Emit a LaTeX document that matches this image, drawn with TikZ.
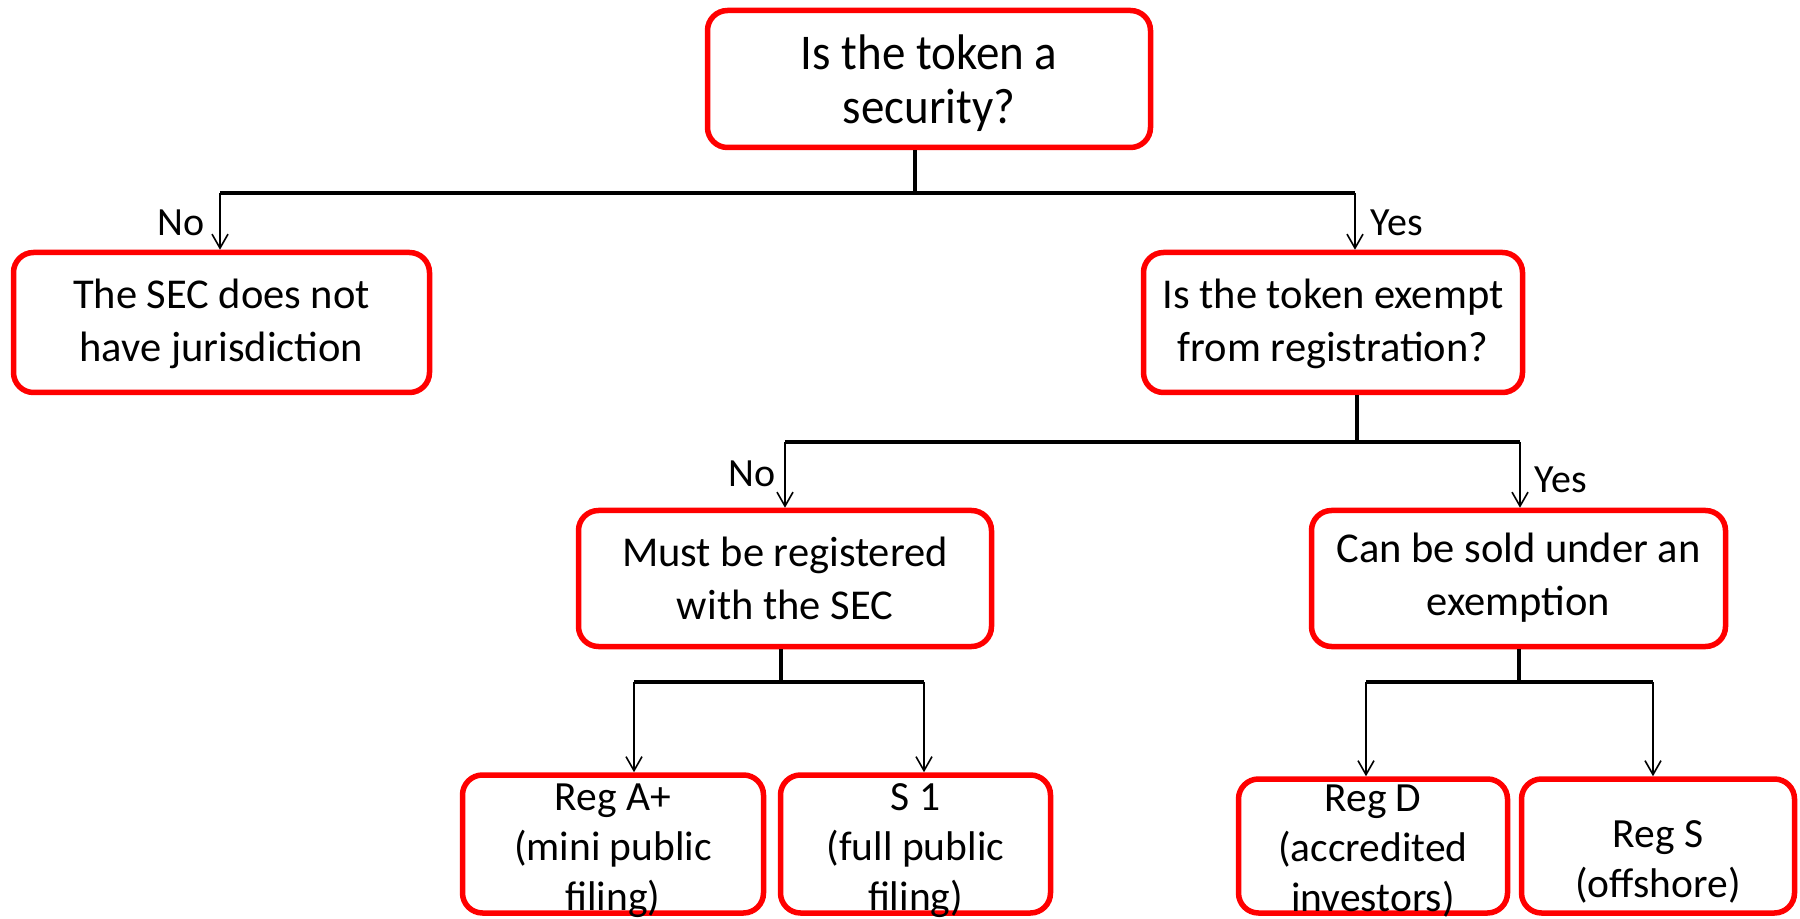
\documentclass[tikz,border=0pt]{standalone}
\usepackage{fontspec}
\setmainfont{Carlito}
\newfontfamily\topfont[FakeStretch=0.94]{Carlito}
\usetikzlibrary{arrows.meta}
\tikzset{
  box/.style={draw=red, line width=2.75pt, rounded corners=10pt, inner sep=0pt},
  txt/.style={align=center, inner sep=0pt, font=\fontsize{21.25}{26.5}\selectfont},
  toptxt/.style={align=center, inner sep=0pt, font=\topfont\fontsize{25}{27}\selectfont},
  bottxt/.style={align=center, inner sep=0pt, font=\fontsize{20.75}{25}\selectfont},
  lbl/.style={inner sep=0pt, font=\fontsize{20}{24}\selectfont},
  bar/.style={line width=1.6pt},
  arr/.style={line width=0.8pt, -{Straight Barb[length=7pt,width=8pt]}}
}
\begin{document}
\begin{tikzpicture}[x=0.5pt,y=-0.5pt]
\useasboundingbox (0,0) rectangle (1800,919);
% boxes
\node[box, minimum width=221.5pt, minimum height=68.5pt] (top) at (929,79) {};
\node[toptxt] (topT) at (929,83) {Is the token a\\security?};
\node[box, minimum width=208pt, minimum height=70pt] (nojur) at (221.5,322.5) {};
\node[txt] (nojurT) at (221.5,324) {The SEC does not\\have jurisdiction};
\node[box, minimum width=189.5pt, minimum height=70pt] (exempt) at (1333,322.5) {};
\node[txt] (exemptT) at (1333,324) {Is the token exempt\\from registration?};
\node[box, minimum width=206.5pt, minimum height=68pt] (must) at (785,578.5) {};
\node[txt] (mustT) at (785,578) {Must be registered\\with the SEC};
\node[box, minimum width=207pt, minimum height=68pt] (can) at (1518.5,578.5) {};
\node[txt] (canT) at (1518.5,578) {Can be sold under an\\exemption};
\node[box, minimum width=150.5pt, minimum height=69pt] (rega) at (613,844) {};
\node[bottxt] (regaT) at (613,851) {Reg A+\\(mini public\\filing)};
\node[box, minimum width=135pt, minimum height=69pt] (sone) at (915.5,844) {};
\node[bottxt] (soneT) at (915.5,851) {S 1\\(full public\\filing)};
\node[box, minimum width=134.5pt, minimum height=67pt] (regd) at (1373,846) {};
\node[bottxt] (regdT) at (1373,851) {Reg D\\(accredited\\investors)};
\node[box, minimum width=136.5pt, minimum height=67pt] (regs) at (1658,846) {};
\node[bottxt] (regsT) at (1658,862) {Reg S\\(offshore)};
% junctions
\coordinate (j1) at (915,193);
\coordinate (j1l) at (220,193);
\coordinate (j1r) at (1355,193);
\coordinate (j2) at (1357,442);
\coordinate (j2l) at (785,442);
\coordinate (j2r) at (1520,442);
\coordinate (j3) at (781,682);
\coordinate (j3l) at (634,682);
\coordinate (j3r) at (924,682);
\coordinate (j4) at (1519,682);
\coordinate (j4l) at (1366,682);
\coordinate (j4r) at (1653,682);
% connectors
\draw[bar] (top.south -| j1) -- (j1);
\draw[bar] (j1l) -- (j1r);
\draw[arr] (j1l) -- (nojur.north -| j1l);
\draw[arr] (j1r) -- (exempt.north -| j1r);
\draw[bar] (exempt.south -| j2) -- (j2);
\draw[bar] (j2l) -- (j2r);
\draw[arr] (j2l) -- (must.north -| j2l);
\draw[arr] (j2r) -- (can.north -| j2r);
\draw[bar] (must.south -| j3) -- (j3);
\draw[bar] (j3l) -- (j3r);
\draw[arr] (j3l) -- (rega.north -| j3l);
\draw[arr] (j3r) -- (sone.north -| j3r);
\draw[bar] (can.south -| j4) -- (j4);
\draw[bar] (j4l) -- (j4r);
\draw[arr] (j4l) -- (regd.north -| j4l);
\draw[arr] (j4r) -- (regs.north -| j4r);
% labels
\node[lbl] (l1) at (181,223) {No};
\node[lbl] (l2) at (1397,223) {Yes};
\node[lbl] (l3) at (752,474) {No};
\node[lbl] (l4) at (1561,480) {Yes};
\end{tikzpicture}
\end{document}
